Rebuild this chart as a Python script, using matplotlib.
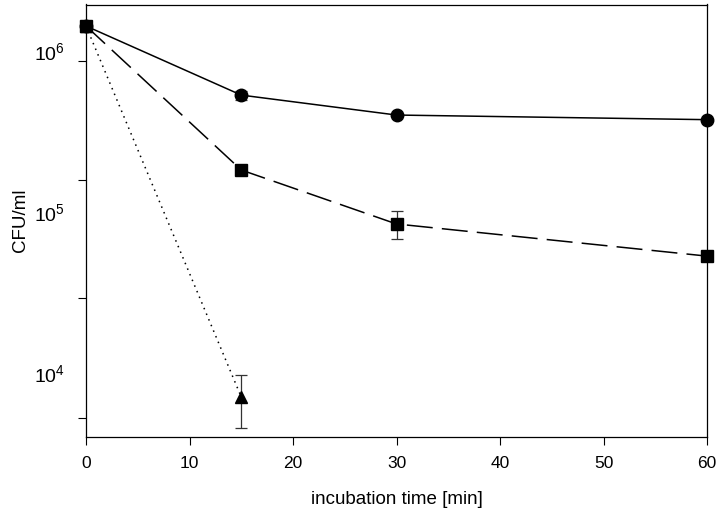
import numpy as np
import matplotlib
matplotlib.use("Agg")
import matplotlib.pyplot as plt

plt.rcParams['font.family'] = ['Liberation Sans', 'DejaVu Sans']
plt.rcParams['mathtext.fontset'] = 'custom'
plt.rcParams['mathtext.rm'] = 'Liberation Sans'

# incubation time [min]
t_circle = [0, 15, 30, 60]
t_square = [0, 15, 30, 60]
t_triangle = [0, 15]

# CFU/ml
cfu_circle = [1.45e6, 5.4e5, 4.06e5, 3.8e5]
err_circle = [0, 3.5e4, 0, 0]
cfu_square = [1.45e6, 1.85e5, 8.55e4, 5.4e4]
err_square = [0, 0, 1.7e4, 0]
cfu_triangle = [1.45e6, 7.2e3]
err_triangle = [0, 2.6e3]

x_ticks = [0, 10, 20, 30, 40, 50, 60]
y_labels = [1e6, 1e5, 1e4]
# the tick marks on the y axis do not sit on the decades in the original
y_tick_exps = [5.944, 5.205, 4.472, 3.727]

fig = plt.figure(figsize=(7.2, 5.12), dpi=100)
ax = fig.add_axes([86 / 720, 1 - 437 / 512, 621 / 720, 432.5 / 512])

ebkw = dict(ecolor='#333333', elinewidth=0.9, capsize=4, capthick=0.9, clip_on=False)

# triangle and square first so the circle sits on top at t=0
ax.errorbar(t_triangle, cfu_triangle, yerr=err_triangle, color='black', lw=1.1,
            ls=(0, (1, 3)), marker='^', ms=8, **ebkw)
ax.errorbar(t_square, cfu_square, yerr=err_square, color='black', lw=1.1,
            ls=(0, (17, 6)), marker='s', ms=8, **ebkw)
ax.errorbar(t_circle, cfu_circle, yerr=err_circle, color='black', lw=1.1,
            ls='-', marker='o', ms=9, **ebkw)

ax.set_yscale('log')
ax.set_xlim(0, 60)
ax.set_ylim(10 ** 3.609, 10 ** 6.295)

ax.set_xticks(x_ticks)
ax.tick_params(axis='x', direction='out', length=6, width=0.8, pad=8, labelsize=12.5)

ax.set_yticks(y_labels)
ax.set_yticklabels([r'$10^{%d}$' % int(np.log10(v)) for v in y_labels])
ax.set_yticks([10 ** e for e in y_tick_exps], minor=True)
ax.yaxis.set_minor_formatter(matplotlib.ticker.NullFormatter())
ax.tick_params(axis='y', which='major', length=0, pad=15, labelsize=14)
ax.tick_params(axis='y', which='minor', direction='out', length=6, width=0.8)

for s in ax.spines.values():
    s.set_linewidth(0.9)

ax.set_xlabel('incubation time [min]', fontsize=13.5, va='center')
ax.xaxis.set_label_coords(0.5, -63 / 432.5)
ax.set_ylabel('CFU/ml', fontsize=13.5, va='center')
ax.yaxis.set_label_coords(-66 / 621, 0.5)

fig.savefig('out.png', dpi=100)
